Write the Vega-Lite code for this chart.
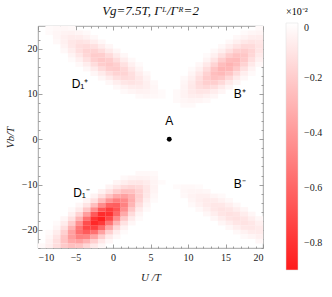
{
"$schema": "https://vega.github.io/schema/vega-lite/v6.json",
"autosize": "none",
"width": 225,
"height": 222,
"padding": {"left": 38, "top": 26, "right": 69, "bottom": 49},
"background": "white",
"title": {"text": "Vg=7.5T,  Γᴸ/Γᴿ=2", "font": "Liberation Serif", "fontStyle": "italic", "fontWeight": "normal", "fontSize": 13, "offset": -11, "color": "#111"},
"datasets": {
"cells": [
{"u":-9.5,"v":-23.5,"z":-0.022},{"u":-8.5,"v":-23.5,"z":-0.061},{"u":-7.5,"v":-23.5,"z":-0.130},{"u":-6.5,"v":-23.5,"z":-0.207},{"u":-5.5,"v":-23.5,"z":-0.251},{"u":-4.5,"v":-23.5,"z":-0.231},{"u":-3.5,"v":-23.5,"z":-0.161},{"u":-2.5,"v":-23.5,"z":-0.085},{"u":-1.5,"v":-23.5,"z":-0.034},
{"u":-8.5,"v":-22.5,"z":-0.050},{"u":-7.5,"v":-22.5,"z":-0.125},{"u":-6.5,"v":-22.5,"z":-0.236},{"u":-5.5,"v":-22.5,"z":-0.339},{"u":-4.5,"v":-22.5,"z":-0.368},{"u":-3.5,"v":-22.5,"z":-0.303},{"u":-2.5,"v":-22.5,"z":-0.189},{"u":-1.5,"v":-22.5,"z":-0.090},{"u":-0.5,"v":-22.5,"z":-0.032},
{"u":-8.5,"v":-21.5,"z":-0.034},{"u":-7.5,"v":-21.5,"z":-0.102},{"u":-6.5,"v":-21.5,"z":-0.228},{"u":-5.5,"v":-21.5,"z":-0.386},{"u":-4.5,"v":-21.5,"z":-0.495},{"u":-3.5,"v":-21.5,"z":-0.481},{"u":-2.5,"v":-21.5,"z":-0.355},{"u":-1.5,"v":-21.5,"z":-0.198},{"u":-0.5,"v":-21.5,"z":-0.084},{"u":0.5,"v":-21.5,"z":-0.027},
{"u":-8.5,"v":-20.5,"z":-0.020},{"u":-7.5,"v":-20.5,"z":-0.070},{"u":-6.5,"v":-20.5,"z":-0.186},{"u":-5.5,"v":-20.5,"z":-0.371},{"u":-4.5,"v":-20.5,"z":-0.562},{"u":-3.5,"v":-20.5,"z":-0.645},{"u":-2.5,"v":-20.5,"z":-0.562},{"u":-1.5,"v":-20.5,"z":-0.371},{"u":-0.5,"v":-20.5,"z":-0.186},{"u":0.5,"v":-20.5,"z":-0.070},{"u":1.5,"v":-20.5,"z":-0.020},
{"u":-7.5,"v":-19.5,"z":-0.041},{"u":-6.5,"v":-19.5,"z":-0.127},{"u":-5.5,"v":-19.5,"z":-0.300},{"u":-4.5,"v":-19.5,"z":-0.538},{"u":-3.5,"v":-19.5,"z":-0.728},{"u":-2.5,"v":-19.5,"z":-0.749},{"u":-1.5,"v":-19.5,"z":-0.584},{"u":-0.5,"v":-19.5,"z":-0.345},{"u":0.5,"v":-19.5,"z":-0.154},{"u":1.5,"v":-19.5,"z":-0.052},
{"u":-7.5,"v":-18.5,"z":-0.020},{"u":-6.5,"v":-18.5,"z":-0.074},{"u":-5.5,"v":-18.5,"z":-0.206},{"u":-4.5,"v":-18.5,"z":-0.435},{"u":-3.5,"v":-18.5,"z":-0.696},{"u":-2.5,"v":-18.5,"z":-0.845},{"u":-1.5,"v":-18.5,"z":-0.778},{"u":-0.5,"v":-18.5,"z":-0.542},{"u":0.5,"v":-18.5,"z":-0.286},{"u":1.5,"v":-18.5,"z":-0.115},{"u":2.5,"v":-18.5,"z":-0.035},
{"u":-6.5,"v":-17.5,"z":-0.036},{"u":-5.5,"v":-17.5,"z":-0.119},{"u":-4.5,"v":-17.5,"z":-0.297},{"u":-3.5,"v":-17.5,"z":-0.561},{"u":-2.5,"v":-17.5,"z":-0.805},{"u":-1.5,"v":-17.5,"z":-0.875},{"u":-0.5,"v":-17.5,"z":-0.721},{"u":0.5,"v":-17.5,"z":-0.451},{"u":1.5,"v":-17.5,"z":-0.213},{"u":2.5,"v":-17.5,"z":-0.077},{"u":3.5,"v":-17.5,"z":-0.021},
{"u":-5.5,"v":-16.5,"z":-0.058},{"u":-4.5,"v":-16.5,"z":-0.171},{"u":-3.5,"v":-16.5,"z":-0.383},{"u":-2.5,"v":-16.5,"z":-0.648},{"u":-1.5,"v":-16.5,"z":-0.831},{"u":-0.5,"v":-16.5,"z":-0.808},{"u":0.5,"v":-16.5,"z":-0.597},{"u":1.5,"v":-16.5,"z":-0.333},{"u":2.5,"v":-16.5,"z":-0.141},{"u":3.5,"v":-16.5,"z":-0.045},
{"u":-5.5,"v":-15.5,"z":-0.024},{"u":-4.5,"v":-15.5,"z":-0.083},{"u":-3.5,"v":-15.5,"z":-0.221},{"u":-2.5,"v":-15.5,"z":-0.440},{"u":-1.5,"v":-15.5,"z":-0.667},{"u":-0.5,"v":-15.5,"z":-0.766},{"u":0.5,"v":-15.5,"z":-0.667},{"u":1.5,"v":-15.5,"z":-0.440},{"u":2.5,"v":-15.5,"z":-0.221},{"u":3.5,"v":-15.5,"z":-0.083},{"u":4.5,"v":-15.5,"z":-0.024},
{"u":-4.5,"v":-14.5,"z":-0.034},{"u":-3.5,"v":-14.5,"z":-0.107},{"u":-2.5,"v":-14.5,"z":-0.253},{"u":-1.5,"v":-14.5,"z":-0.453},{"u":-0.5,"v":-14.5,"z":-0.613},{"u":0.5,"v":-14.5,"z":-0.631},{"u":1.5,"v":-14.5,"z":-0.491},{"u":2.5,"v":-14.5,"z":-0.290},{"u":3.5,"v":-14.5,"z":-0.130},{"u":4.5,"v":-14.5,"z":-0.044},
{"u":-3.5,"v":-13.5,"z":-0.044},{"u":-2.5,"v":-13.5,"z":-0.122},{"u":-1.5,"v":-13.5,"z":-0.259},{"u":-0.5,"v":-13.5,"z":-0.414},{"u":0.5,"v":-13.5,"z":-0.503},{"u":1.5,"v":-13.5,"z":-0.463},{"u":2.5,"v":-13.5,"z":-0.323},{"u":3.5,"v":-13.5,"z":-0.171},{"u":4.5,"v":-13.5,"z":-0.068},{"u":5.5,"v":-13.5,"z":-0.021},
{"u":-2.5,"v":-12.5,"z":-0.050},{"u":-1.5,"v":-12.5,"z":-0.125},{"u":-0.5,"v":-12.5,"z":-0.236},{"u":0.5,"v":-12.5,"z":-0.339},{"u":1.5,"v":-12.5,"z":-0.368},{"u":2.5,"v":-12.5,"z":-0.303},{"u":3.5,"v":-12.5,"z":-0.189},{"u":4.5,"v":-12.5,"z":-0.090},{"u":5.5,"v":-12.5,"z":-0.032},
{"u":-1.5,"v":-11.5,"z":-0.051},{"u":-0.5,"v":-11.5,"z":-0.114},{"u":0.5,"v":-11.5,"z":-0.193},{"u":1.5,"v":-11.5,"z":-0.247},{"u":2.5,"v":-11.5,"z":-0.241},{"u":3.5,"v":-11.5,"z":-0.178},{"u":4.5,"v":-11.5,"z":-0.099},{"u":5.5,"v":-11.5,"z":-0.042},
{"u":-0.5,"v":-10.5,"z":-0.046},{"u":0.5,"v":-10.5,"z":-0.093},{"u":1.5,"v":-10.5,"z":-0.140},{"u":2.5,"v":-10.5,"z":-0.161},{"u":3.5,"v":-10.5,"z":-0.140},{"u":4.5,"v":-10.5,"z":-0.093},{"u":5.5,"v":-10.5,"z":-0.046},
{"u":0.5,"v":-9.5,"z":-0.038},{"u":1.5,"v":-9.5,"z":-0.067},{"u":2.5,"v":-9.5,"z":-0.091},{"u":3.5,"v":-9.5,"z":-0.094},{"u":4.5,"v":-9.5,"z":-0.073},{"u":5.5,"v":-9.5,"z":-0.043},{"u":6.5,"v":-9.5,"z":-0.020},
{"u":1.5,"v":-8.5,"z":-0.027},{"u":2.5,"v":-8.5,"z":-0.043},{"u":3.5,"v":-8.5,"z":-0.053},{"u":4.5,"v":-8.5,"z":-0.048},{"u":5.5,"v":-8.5,"z":-0.034},
{"u":3.5,"v":-7.5,"z":-0.026},{"u":4.5,"v":-7.5,"z":-0.028},{"u":5.5,"v":-7.5,"z":-0.023},

{"u":-8.5,"v":24.5,"z":-0.020},{"u":-7.5,"v":24.5,"z":-0.028},{"u":-6.5,"v":24.5,"z":-0.031},{"u":-5.5,"v":24.5,"z":-0.025},
{"u":-8.5,"v":23.5,"z":-0.020},{"u":-7.5,"v":23.5,"z":-0.036},{"u":-6.5,"v":23.5,"z":-0.049},{"u":-5.5,"v":23.5,"z":-0.050},{"u":-4.5,"v":23.5,"z":-0.038},{"u":-3.5,"v":23.5,"z":-0.022},
{"u":-7.5,"v":22.5,"z":-0.037},{"u":-6.5,"v":22.5,"z":-0.060},{"u":-5.5,"v":22.5,"z":-0.076},{"u":-4.5,"v":22.5,"z":-0.072},{"u":-3.5,"v":22.5,"z":-0.052},{"u":-2.5,"v":22.5,"z":-0.028},
{"u":-7.5,"v":21.5,"z":-0.029},{"u":-6.5,"v":21.5,"z":-0.060},{"u":-5.5,"v":21.5,"z":-0.093},{"u":-4.5,"v":21.5,"z":-0.109},{"u":-3.5,"v":21.5,"z":-0.097},{"u":-2.5,"v":21.5,"z":-0.065},{"u":-1.5,"v":21.5,"z":-0.033},
{"u":-6.5,"v":20.5,"z":-0.047},{"u":-5.5,"v":20.5,"z":-0.090},{"u":-4.5,"v":20.5,"z":-0.131},{"u":-3.5,"v":20.5,"z":-0.143},{"u":-2.5,"v":20.5,"z":-0.120},{"u":-1.5,"v":20.5,"z":-0.075},{"u":-0.5,"v":20.5,"z":-0.036},
{"u":-6.5,"v":19.5,"z":-0.029},{"u":-5.5,"v":19.5,"z":-0.069},{"u":-4.5,"v":19.5,"z":-0.124},{"u":-3.5,"v":19.5,"z":-0.168},{"u":-2.5,"v":19.5,"z":-0.173},{"u":-1.5,"v":19.5,"z":-0.135},{"u":-0.5,"v":19.5,"z":-0.080},{"u":0.5,"v":19.5,"z":-0.036},
{"u":-5.5,"v":18.5,"z":-0.043},{"u":-4.5,"v":18.5,"z":-0.094},{"u":-3.5,"v":18.5,"z":-0.158},{"u":-2.5,"v":18.5,"z":-0.200},{"u":-1.5,"v":18.5,"z":-0.193},{"u":-0.5,"v":18.5,"z":-0.141},{"u":0.5,"v":18.5,"z":-0.078},{"u":1.5,"v":18.5,"z":-0.033},
{"u":-5.5,"v":17.5,"z":-0.021},{"u":-4.5,"v":17.5,"z":-0.057},{"u":-3.5,"v":17.5,"z":-0.117},{"u":-2.5,"v":17.5,"z":-0.183},{"u":-1.5,"v":17.5,"z":-0.218},{"u":-0.5,"v":17.5,"z":-0.196},{"u":0.5,"v":17.5,"z":-0.134},{"u":1.5,"v":17.5,"z":-0.069},{"u":2.5,"v":17.5,"z":-0.027},
{"u":-4.5,"v":16.5,"z":-0.027},{"u":-3.5,"v":16.5,"z":-0.069},{"u":-2.5,"v":16.5,"z":-0.134},{"u":-1.5,"v":16.5,"z":-0.196},{"u":-0.5,"v":16.5,"z":-0.218},{"u":0.5,"v":16.5,"z":-0.183},{"u":1.5,"v":16.5,"z":-0.117},{"u":2.5,"v":16.5,"z":-0.057},{"u":3.5,"v":16.5,"z":-0.021},
{"u":-3.5,"v":15.5,"z":-0.033},{"u":-2.5,"v":15.5,"z":-0.078},{"u":-1.5,"v":15.5,"z":-0.141},{"u":-0.5,"v":15.5,"z":-0.193},{"u":0.5,"v":15.5,"z":-0.200},{"u":1.5,"v":15.5,"z":-0.158},{"u":2.5,"v":15.5,"z":-0.094},{"u":3.5,"v":15.5,"z":-0.043},
{"u":-2.5,"v":14.5,"z":-0.036},{"u":-1.5,"v":14.5,"z":-0.080},{"u":-0.5,"v":14.5,"z":-0.135},{"u":0.5,"v":14.5,"z":-0.173},{"u":1.5,"v":14.5,"z":-0.168},{"u":2.5,"v":14.5,"z":-0.124},{"u":3.5,"v":14.5,"z":-0.069},{"u":4.5,"v":14.5,"z":-0.029},
{"u":-1.5,"v":13.5,"z":-0.036},{"u":-0.5,"v":13.5,"z":-0.075},{"u":0.5,"v":13.5,"z":-0.120},{"u":1.5,"v":13.5,"z":-0.143},{"u":2.5,"v":13.5,"z":-0.131},{"u":3.5,"v":13.5,"z":-0.090},{"u":4.5,"v":13.5,"z":-0.047},
{"u":-0.5,"v":12.5,"z":-0.033},{"u":0.5,"v":12.5,"z":-0.065},{"u":1.5,"v":12.5,"z":-0.097},{"u":2.5,"v":12.5,"z":-0.109},{"u":3.5,"v":12.5,"z":-0.093},{"u":4.5,"v":12.5,"z":-0.060},{"u":5.5,"v":12.5,"z":-0.029},
{"u":0.5,"v":11.5,"z":-0.028},{"u":1.5,"v":11.5,"z":-0.052},{"u":2.5,"v":11.5,"z":-0.072},{"u":3.5,"v":11.5,"z":-0.076},{"u":4.5,"v":11.5,"z":-0.060},{"u":5.5,"v":11.5,"z":-0.037},
{"u":1.5,"v":10.5,"z":-0.022},{"u":2.5,"v":10.5,"z":-0.038},{"u":3.5,"v":10.5,"z":-0.050},{"u":4.5,"v":10.5,"z":-0.049},{"u":5.5,"v":10.5,"z":-0.036},{"u":6.5,"v":10.5,"z":-0.020},
{"u":3.5,"v":9.5,"z":-0.025},{"u":4.5,"v":9.5,"z":-0.031},{"u":5.5,"v":9.5,"z":-0.028},{"u":6.5,"v":9.5,"z":-0.020},

{"u":19.5,"v":24.5,"z":-0.022},
{"u":17.5,"v":23.5,"z":-0.021},{"u":18.5,"v":23.5,"z":-0.034},{"u":19.5,"v":23.5,"z":-0.043},
{"u":16.5,"v":22.5,"z":-0.026},{"u":17.5,"v":22.5,"z":-0.048},{"u":18.5,"v":22.5,"z":-0.066},{"u":19.5,"v":22.5,"z":-0.069},
{"u":15.5,"v":21.5,"z":-0.029},{"u":16.5,"v":21.5,"z":-0.058},{"u":17.5,"v":21.5,"z":-0.090},{"u":18.5,"v":21.5,"z":-0.105},{"u":19.5,"v":21.5,"z":-0.093},
{"u":14.5,"v":20.5,"z":-0.029},{"u":15.5,"v":20.5,"z":-0.065},{"u":16.5,"v":20.5,"z":-0.111},{"u":17.5,"v":20.5,"z":-0.145},{"u":18.5,"v":20.5,"z":-0.143},{"u":19.5,"v":20.5,"z":-0.107},
{"u":13.5,"v":19.5,"z":-0.026},{"u":14.5,"v":19.5,"z":-0.064},{"u":15.5,"v":19.5,"z":-0.123},{"u":16.5,"v":19.5,"z":-0.179},{"u":17.5,"v":19.5,"z":-0.196},{"u":18.5,"v":19.5,"z":-0.164},{"u":19.5,"v":19.5,"z":-0.103},
{"u":12.5,"v":18.5,"z":-0.020},{"u":13.5,"v":18.5,"z":-0.057},{"u":14.5,"v":18.5,"z":-0.121},{"u":15.5,"v":18.5,"z":-0.196},{"u":16.5,"v":18.5,"z":-0.240},{"u":17.5,"v":18.5,"z":-0.223},{"u":18.5,"v":18.5,"z":-0.157},{"u":19.5,"v":18.5,"z":-0.083},
{"u":12.5,"v":17.5,"z":-0.045},{"u":13.5,"v":17.5,"z":-0.107},{"u":14.5,"v":17.5,"z":-0.193},{"u":15.5,"v":17.5,"z":-0.264},{"u":16.5,"v":17.5,"z":-0.272},{"u":17.5,"v":17.5,"z":-0.214},{"u":18.5,"v":17.5,"z":-0.127},{"u":19.5,"v":17.5,"z":-0.057},
{"u":11.5,"v":16.5,"z":-0.032},{"u":12.5,"v":16.5,"z":-0.085},{"u":13.5,"v":16.5,"z":-0.170},{"u":14.5,"v":16.5,"z":-0.258},{"u":15.5,"v":16.5,"z":-0.297},{"u":16.5,"v":16.5,"z":-0.259},{"u":17.5,"v":16.5,"z":-0.172},{"u":18.5,"v":16.5,"z":-0.086},{"u":19.5,"v":16.5,"z":-0.033},
{"u":10.5,"v":15.5,"z":-0.020},{"u":11.5,"v":15.5,"z":-0.060},{"u":12.5,"v":15.5,"z":-0.134},{"u":13.5,"v":15.5,"z":-0.226},{"u":14.5,"v":15.5,"z":-0.290},{"u":15.5,"v":15.5,"z":-0.282},{"u":16.5,"v":15.5,"z":-0.208},{"u":17.5,"v":15.5,"z":-0.116},{"u":18.5,"v":15.5,"z":-0.049},
{"u":10.5,"v":14.5,"z":-0.038},{"u":11.5,"v":14.5,"z":-0.095},{"u":12.5,"v":14.5,"z":-0.178},{"u":13.5,"v":14.5,"z":-0.255},{"u":14.5,"v":14.5,"z":-0.276},{"u":15.5,"v":14.5,"z":-0.227},{"u":16.5,"v":14.5,"z":-0.141},{"u":17.5,"v":14.5,"z":-0.067},{"u":18.5,"v":14.5,"z":-0.024},
{"u":9.5,"v":13.5,"z":-0.022},{"u":10.5,"v":13.5,"z":-0.060},{"u":11.5,"v":13.5,"z":-0.125},{"u":12.5,"v":13.5,"z":-0.199},{"u":13.5,"v":13.5,"z":-0.241},{"u":14.5,"v":13.5,"z":-0.220},{"u":15.5,"v":13.5,"z":-0.153},{"u":16.5,"v":13.5,"z":-0.080},{"u":17.5,"v":13.5,"z":-0.032},
{"u":9.5,"v":12.5,"z":-0.034},{"u":10.5,"v":12.5,"z":-0.079},{"u":11.5,"v":12.5,"z":-0.140},{"u":12.5,"v":12.5,"z":-0.188},{"u":13.5,"v":12.5,"z":-0.192},{"u":14.5,"v":12.5,"z":-0.148},{"u":15.5,"v":12.5,"z":-0.087},{"u":16.5,"v":12.5,"z":-0.039},
{"u":9.5,"v":11.5,"z":-0.044},{"u":10.5,"v":11.5,"z":-0.087},{"u":11.5,"v":11.5,"z":-0.131},{"u":12.5,"v":11.5,"z":-0.149},{"u":13.5,"v":11.5,"z":-0.128},{"u":14.5,"v":11.5,"z":-0.084},{"u":15.5,"v":11.5,"z":-0.041},
{"u":8.5,"v":10.5,"z":-0.022},{"u":9.5,"v":10.5,"z":-0.049},{"u":10.5,"v":10.5,"z":-0.082},{"u":11.5,"v":10.5,"z":-0.103},{"u":12.5,"v":10.5,"z":-0.099},{"u":13.5,"v":10.5,"z":-0.072},{"u":14.5,"v":10.5,"z":-0.040},
{"u":8.5,"v":9.5,"z":-0.025},{"u":9.5,"v":9.5,"z":-0.046},{"u":10.5,"v":9.5,"z":-0.065},{"u":11.5,"v":9.5,"z":-0.069},{"u":12.5,"v":9.5,"z":-0.056},{"u":13.5,"v":9.5,"z":-0.035},
{"u":8.5,"v":8.5,"z":-0.023},{"u":9.5,"v":8.5,"z":-0.036},{"u":10.5,"v":8.5,"z":-0.043},{"u":11.5,"v":8.5,"z":-0.039},{"u":12.5,"v":8.5,"z":-0.026},
{"u":9.5,"v":7.5,"z":-0.024},{"u":10.5,"v":7.5,"z":-0.024},

{"u":8.5,"v":-10.5,"z":-0.020},{"u":9.5,"v":-10.5,"z":-0.027},{"u":10.5,"v":-10.5,"z":-0.027},{"u":11.5,"v":-10.5,"z":-0.021},
{"u":9.5,"v":-11.5,"z":-0.032},{"u":10.5,"v":-11.5,"z":-0.041},{"u":11.5,"v":-11.5,"z":-0.040},{"u":12.5,"v":-11.5,"z":-0.030},
{"u":9.5,"v":-12.5,"z":-0.028},{"u":10.5,"v":-12.5,"z":-0.046},{"u":11.5,"v":-12.5,"z":-0.059},{"u":12.5,"v":-12.5,"z":-0.057},{"u":13.5,"v":-12.5,"z":-0.041},{"u":14.5,"v":-12.5,"z":-0.023},
{"u":10.5,"v":-13.5,"z":-0.038},{"u":11.5,"v":-13.5,"z":-0.063},{"u":12.5,"v":-13.5,"z":-0.078},{"u":13.5,"v":-13.5,"z":-0.074},{"u":14.5,"v":-13.5,"z":-0.052},{"u":15.5,"v":-13.5,"z":-0.028},
{"u":10.5,"v":-14.5,"z":-0.023},{"u":11.5,"v":-14.5,"z":-0.050},{"u":12.5,"v":-14.5,"z":-0.079},{"u":13.5,"v":-14.5,"z":-0.096},{"u":14.5,"v":-14.5,"z":-0.089},{"u":15.5,"v":-14.5,"z":-0.062},{"u":16.5,"v":-14.5,"z":-0.033},
{"u":11.5,"v":-15.5,"z":-0.029},{"u":12.5,"v":-15.5,"z":-0.060},{"u":13.5,"v":-15.5,"z":-0.093},{"u":14.5,"v":-15.5,"z":-0.111},{"u":15.5,"v":-15.5,"z":-0.100},{"u":16.5,"v":-15.5,"z":-0.068},{"u":17.5,"v":-15.5,"z":-0.035},
{"u":12.5,"v":-16.5,"z":-0.033},{"u":13.5,"v":-16.5,"z":-0.067},{"u":14.5,"v":-16.5,"z":-0.102},{"u":15.5,"v":-16.5,"z":-0.119},{"u":16.5,"v":-16.5,"z":-0.105},{"u":17.5,"v":-16.5,"z":-0.070},{"u":18.5,"v":-16.5,"z":-0.035},
{"u":13.5,"v":-17.5,"z":-0.035},{"u":14.5,"v":-17.5,"z":-0.070},{"u":15.5,"v":-17.5,"z":-0.105},{"u":16.5,"v":-17.5,"z":-0.119},{"u":17.5,"v":-17.5,"z":-0.102},{"u":18.5,"v":-17.5,"z":-0.067},{"u":19.5,"v":-17.5,"z":-0.033},
{"u":14.5,"v":-18.5,"z":-0.035},{"u":15.5,"v":-18.5,"z":-0.068},{"u":16.5,"v":-18.5,"z":-0.100},{"u":17.5,"v":-18.5,"z":-0.111},{"u":18.5,"v":-18.5,"z":-0.093},{"u":19.5,"v":-18.5,"z":-0.060},
{"u":15.5,"v":-19.5,"z":-0.033},{"u":16.5,"v":-19.5,"z":-0.062},{"u":17.5,"v":-19.5,"z":-0.089},{"u":18.5,"v":-19.5,"z":-0.096},{"u":19.5,"v":-19.5,"z":-0.079},
{"u":16.5,"v":-20.5,"z":-0.028},{"u":17.5,"v":-20.5,"z":-0.052},{"u":18.5,"v":-20.5,"z":-0.074},{"u":19.5,"v":-20.5,"z":-0.078},
{"u":17.5,"v":-21.5,"z":-0.023},{"u":18.5,"v":-21.5,"z":-0.041},{"u":19.5,"v":-21.5,"z":-0.057},
{"u":19.5,"v":-22.5,"z":-0.030}
],
"labels": [
{"u":-4.4,"v":12.1,"t":"D₁⁺"},
{"u":16.9,"v":10.1,"t":"B⁺"},
{"u":-4.2,"v":-11.9,"t":"D₁⁻"},
{"u":16.9,"v":-9.9,"t":"B⁻"}
],
"alabel": [{"u":7.5,"v":4.0,"t":"A"}],
"pt": [{"u":7.5,"v":0}]
},
"layer": [
{
"data": {"name": "cells"},
"mark": {"type": "rect", "width": 7.7, "height": 4.7},
"encoding": {
"x": {"field": "u", "type": "quantitative", "scale": {"domain": [-10, 20], "nice": false, "zero": false},
 "axis": {"orient": "bottom", "values": [-10, -5, 0, 5, 10, 15, 20], "tickSize": -4, "labelPadding": 8, "title": "U /T", "titlePadding": 9}},
"y": {"field": "v", "type": "quantitative", "scale": {"domain": [-24, 25], "nice": false, "zero": false},
 "axis": {"orient": "left", "values": [-20, -10, 0, 10, 20], "tickSize": -4, "labelPadding": 5, "title": "Vb/T", "titlePadding": 6}},
"color": {"field": "z", "type": "quantitative",
 "scale": {"domain": [-0.9, 0], "range": ["#ff1a1a", "#ffffff"], "interpolate": "rgb"},
 "legend": {"orient": "none", "legendX": 248, "legendY": -19, "direction": "vertical", "gradientLength": 247, "gradientThickness": 12,
  "title": "×10⁻²", "titleFont": "Liberation Serif", "titleFontSize": 10, "titleFontWeight": "normal", "titlePadding": 6,
  "values": [0, -0.2, -0.4, -0.6, -0.8], "labelExpr": "datum.value == 0 ? '0' : format(datum.value, '.1f')",
  "labelFont": "Liberation Serif", "labelFontSize": 10, "labelOffset": 6, "labelColor": "#222",
  "gradientStrokeColor": "#ddd", "gradientStrokeWidth": 0.5}}
}
},
{
"data": {"name": "pt"},
"mark": {"type": "point", "filled": true, "color": "black", "size": 24, "opacity": 1},
"encoding": {
"x": {"field": "u", "type": "quantitative", "axis": {"orient": "bottom", "values": [-9,-8,-7,-6,-4,-3,-2,-1,1,2,3,4,6,7,8,9,11,12,13,14,16,17,18,19], "tickSize": -2, "labels": false, "title": null}},
"y": {"field": "v", "type": "quantitative", "axis": {"orient": "left", "values": [-24,-22,-18,-16,-14,-12,-8,-6,-4,-2,2,4,6,8,12,14,16,18,22,24], "tickSize": -2, "labels": false, "title": null}}
}
},
{
"data": {"name": "labels"},
"mark": {"type": "text", "font": "Liberation Sans", "fontSize": 12, "color": "black", "align": "center", "baseline": "middle"},
"encoding": {
"x": {"field": "u", "type": "quantitative", "axis": {"orient": "top", "values": [-10, -5, 0, 5, 10, 15, 20], "tickSize": -4, "labels": false, "title": null}},
"y": {"field": "v", "type": "quantitative", "axis": {"orient": "right", "values": [-20, -10, 0, 10, 20], "tickSize": -4, "labels": false, "title": null}},
"text": {"field": "t"}
}
},
{
"data": {"name": "alabel"},
"mark": {"type": "text", "font": "Liberation Sans", "fontSize": 12, "color": "black", "align": "center", "baseline": "middle"},
"encoding": {
"x": {"field": "u", "type": "quantitative", "axis": {"orient": "top", "values": [-9,-8,-7,-6,-4,-3,-2,-1,1,2,3,4,6,7,8,9,11,12,13,14,16,17,18,19], "tickSize": -2, "labels": false, "title": null}},
"y": {"field": "v", "type": "quantitative", "axis": {"orient": "right", "values": [-24,-22,-18,-16,-14,-12,-8,-6,-4,-2,2,4,6,8,12,14,16,18,22,24], "tickSize": -2, "labels": false, "title": null}},
"text": {"field": "t"}
}
}
],
"resolve": {"axis": {"x": "independent", "y": "independent"}},
"config": {
"view": {"stroke": "#8a8a8a", "strokeWidth": 0.8},
"axis": {"domain": false, "grid": false, "tickColor": "#888", "tickWidth": 0.8, "labelFont": "Liberation Serif", "labelFontSize": 10, "labelColor": "#222",
 "titleFont": "Liberation Serif", "titleFontStyle": "italic", "titleFontWeight": "normal", "titleFontSize": 11, "titleColor": "#222"}
}
}
